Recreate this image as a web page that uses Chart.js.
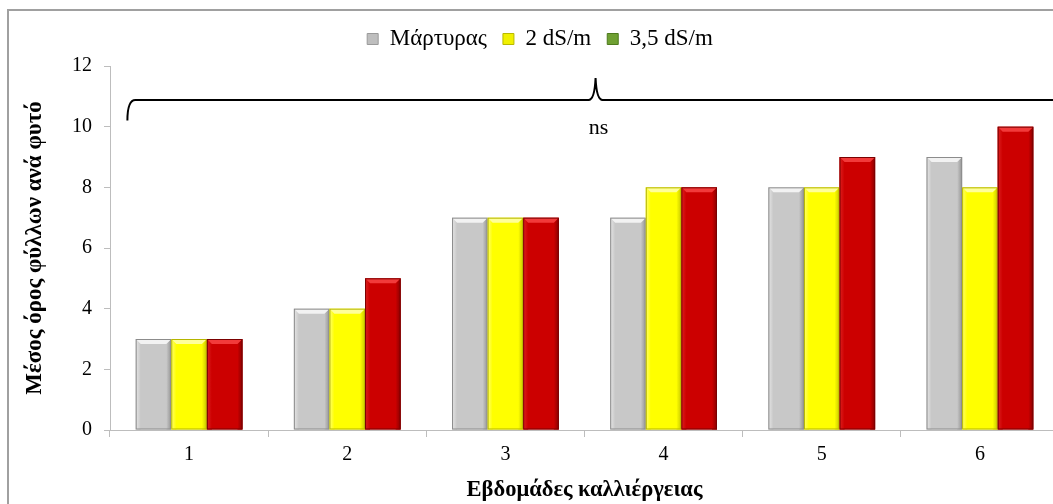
<!DOCTYPE html>
<html><head><meta charset="utf-8">
<script src="https://cdn.jsdelivr.net/npm/chart.js"></script>
<style>
html,body{margin:0;padding:0;overflow:hidden;background:#fff;width:1053px;height:504px;}
#wrap{position:absolute;left:0;top:0;width:1062px;height:504px;}
</style></head><body>
<div id="wrap"><canvas id="c" width="1062" height="504"></canvas></div>
<script>
// ---- data ----
const categories = ['1', '2', '3', '4', '5', '6'];
const seriesNames = ['Μάρτυρας', '2 dS/m', '3,5 dS/m'];
const controlValues = [3, 4, 7, 7, 8, 9];
const ds2Values = [3, 4, 7, 8, 8, 8];
const ds35Values = [3, 5, 7, 8, 9, 10];
const yTickValues = [0, 2, 4, 6, 8, 10, 12];
const braceText = 'ns';
const xTitle = 'Εβδομάδες καλλιέργειας';
const yTitle = 'Μέσος όρος φύλλων ανά φυτό';

// ---- styles ----
const FONT = "'Liberation Serif', 'Times New Roman', serif";
const barStyles = [
  {fill: '#C8C8C8', top: '#F2F2F2', left: ['#E6E6E6', '#C8C8C8'], right: ['#C8C8C8', '#939393'], edge: '#8C8C8C'},
  {fill: '#FFFF00', top: '#FFFF99', left: ['#FFFF70', '#FFFF00'], right: ['#FFFF00', '#C8C800'], edge: '#B5B500'},
  {fill: '#CC0000', top: '#F23A3A', left: ['#DD2020', '#CC0000'], right: ['#CC0000', '#880000'], edge: '#7A0000'}
];
const legendColors = ['#BEBEBE', '#F0F000', '#6FA032'];
const legendBorders = ['#9A9A9A', '#B8B800', '#4E7A1E'];
// brace annotation (in axis units: category index / value)
const brace = {x0: -0.39, xPeak: 2.57, x1: 5.7, yLine: 10.88, yPeak: 11.6, yHook: 10.2, yText: 9.95};

const polyFill = (ctx, pts, color) => {
  ctx.beginPath();
  ctx.moveTo(pts[0][0], pts[0][1]);
  for (let i = 1; i < pts.length; i++) ctx.lineTo(pts[i][0], pts[i][1]);
  ctx.closePath();
  ctx.fillStyle = color;
  ctx.fill();
};
const hGrad = (ctx, x0, x1, c) => {
  const g = ctx.createLinearGradient(x0, 0, x1, 0);
  g.addColorStop(0, c[0]);
  g.addColorStop(1, c[1]);
  return g;
};

const framePlugin = {
  id: 'frame',
  beforeDraw(chart) {
    const ctx = chart.ctx;
    ctx.save();
    ctx.fillStyle = '#fff';
    ctx.fillRect(0, 0, chart.width, chart.height);
    ctx.strokeStyle = '#A0A0A0';
    ctx.lineWidth = 2;
    ctx.beginPath();
    ctx.moveTo(8, chart.height + 5);
    ctx.lineTo(8, 10);
    ctx.lineTo(chart.width + 5, 10);
    ctx.stroke();
    ctx.restore();
  }
};

const bevelPlugin = {
  id: 'bevel',
  afterDatasetsDraw(chart) {
    const ctx = chart.ctx;
    chart.data.datasets.forEach((ds, di) => {
      const meta = chart.getDatasetMeta(di);
      const st = barStyles[di];
      meta.data.forEach(el => {
        const p = el.getProps(['x', 'y', 'base', 'width'], true);
        const l = p.x - p.width / 2, r = p.x + p.width / 2, t = p.y, b = p.base;
        const bv = 5;
        ctx.save();
        polyFill(ctx, [[l, t], [l + bv, t + bv], [l + bv, b], [l, b]], hGrad(ctx, l, l + bv, st.left));
        polyFill(ctx, [[r, t], [r - bv, t + bv], [r - bv, b], [r, b]], hGrad(ctx, r - bv, r, st.right));
        polyFill(ctx, [[l, t], [r, t], [r - bv, t + bv], [l + bv, t + bv]], st.top);
        ctx.strokeStyle = st.edge;
        ctx.lineWidth = 1;
        ctx.strokeRect(l + 0.5, t + 0.5, p.width - 1, b - t - 1);
        ctx.restore();
      });
    });
  }
};

const bracePlugin = {
  id: 'brace',
  afterDraw(chart) {
    const xs = chart.scales.x, ys = chart.scales.y, ctx = chart.ctx;
    const px = v => xs.getPixelForValue(v);
    const py = v => ys.getPixelForValue(v);
    const xL = px(brace.x0), xP = px(brace.xPeak), xR = px(brace.x1);
    const yL = py(brace.yLine), yP = py(brace.yPeak), yH = py(brace.yHook);
    ctx.save();
    ctx.strokeStyle = '#000';
    ctx.lineWidth = 2;
    ctx.beginPath();
    ctx.moveTo(xL, yH);
    ctx.quadraticCurveTo(xL, yL, xL + 8, yL);
    ctx.lineTo(xP - 7, yL);
    ctx.quadraticCurveTo(xP - 1, yL, xP, yP);
    ctx.quadraticCurveTo(xP + 1, yL, xP + 7, yL);
    ctx.lineTo(xR - 8, yL);
    ctx.quadraticCurveTo(xR, yL, xR, yH);
    ctx.stroke();
    ctx.fillStyle = '#000';
    ctx.font = "22px " + FONT;
    ctx.textAlign = 'center';
    ctx.textBaseline = 'middle';
    ctx.fillText(braceText, xP + 3, py(brace.yText));
    ctx.restore();
  }
};

const datasets = [controlValues, ds2Values, ds35Values].map((vals, i) => ({
  label: seriesNames[i],
  data: vals,
  backgroundColor: barStyles[i].fill,
  borderWidth: 0,
  categoryPercentage: 0.675,
  barPercentage: 1.0
}));

new Chart(document.getElementById('c'), {
  type: 'bar',
  data: {labels: categories, datasets},
  options: {
    responsive: false,
    animation: false,
    devicePixelRatio: 1,
    layout: {padding: {left: 21, right: 3, top: 11.5, bottom: 0}},
    plugins: {
      tooltip: {enabled: false},
      subtitle: {display: true, text: '', weight: 500, font: {size: 1, lineHeight: 1}, padding: {top: 0, bottom: 4.5}},
      legend: {
        position: 'top',
        labels: {
          boxWidth: 11,
          boxHeight: 11,
          padding: 16,
          color: '#000',
          font: {family: FONT, size: 23},
          generateLabels(chart) {
            return chart.data.datasets.map((ds, i) => ({
              text: ds.label,
              fillStyle: legendColors[i],
              strokeStyle: legendBorders[i],
              lineWidth: 1,
              datasetIndex: i,
              hidden: false
            }));
          }
        }
      }
    },
    scales: {
      x: {
        grid: {display: true, drawOnChartArea: false, drawTicks: true, tickLength: 7, color: '#BDBDBD', offset: true},
        border: {display: true, color: '#BDBDBD', width: 1},
        ticks: {color: '#000', font: {family: FONT, size: 20}, padding: 6},
        title: {display: true, text: xTitle, color: '#000', font: {family: FONT, size: 22.5, weight: 'bold'}, padding: {top: 0, bottom: 0}},
        afterFit(s) { s.height = 74; }
      },
      y: {
        min: 0,
        max: 12,
        afterBuildTicks(s) { s.ticks = yTickValues.map(v => ({value: v})); },
        grid: {display: true, drawOnChartArea: false, drawTicks: true, tickLength: 6, color: '#BDBDBD'},
        border: {display: true, color: '#BDBDBD', width: 1},
        ticks: {color: '#000', font: {family: FONT, size: 20}, padding: 12},
        title: {display: true, text: yTitle, color: '#000', font: {family: FONT, size: 23, weight: 'bold'}, padding: {top: 0, bottom: 0}},
        afterFit(s) { s.width = 89; }
      }
    }
  },
  plugins: [framePlugin, bevelPlugin, bracePlugin]
});
</script>
</body></html>
